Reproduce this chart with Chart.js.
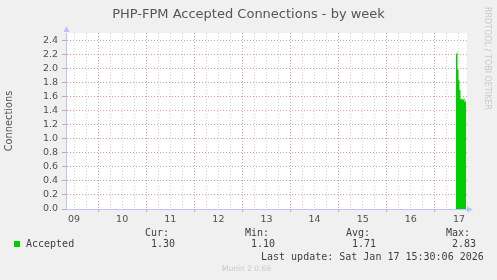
<!DOCTYPE html>
<html>
<head>
<meta charset="utf-8">
<script src="https://cdn.jsdelivr.net/npm/chart.js@4.4.1/dist/chart.umd.min.js"></script>
<style>
    html, body { margin: 0; padding: 0; background: #f0f0f0; }
    #wrap { position: relative; width: 497px; height: 280px; overflow: hidden; }
    #chart { position: absolute; left: 0; top: 0; }
    .mono {
        position: absolute;
        white-space: pre;
        font-family: "DejaVu Sans Mono", monospace;
        font-size: 10px;
        line-height: 12px;
        color: #404040;
    }
    .swatch { position: absolute; left: 14px; top: 241px; width: 6px; height: 6px; background: #00cc00; }
    .credit {
        position: absolute;
        font-family: "DejaVu Sans", sans-serif;
        font-size: 7.5px;
        color: #c8c8c8;
        white-space: pre;
    }
    .vert { writing-mode: vertical-rl; font-size: 8px; }
</style>
</head>
<body>
<div id="wrap">
    <canvas id="chart" width="497" height="280"></canvas>
</div>
<script>
/* ========================================
   Munin weekly graph: PHP-FPM accepted connections
   ======================================== */

// x axis runs in hours counted from Fri Jan 09 00:00
const dayLabels = ['09', '10', '11', '12', '13', '14', '15', '16', '17'];
const sampleHours = [202.5, 203, 203.5, 204, 204.5, 205, 205.5, 206, 206.5, 207, 207.5];
const accepted = [2.19, 2.22, 1.98, 1.83, 1.69, 1.56, 1.57, 1.55, 1.57, 1.52, 1.55];

const seriesName = 'Accepted';
const statLabels = ['Cur:', 'Min:', 'Avg:', 'Max:'];
const statValues = ['1.30', '1.10', '1.71', '2.83'];
const lastUpdate = 'Last update: Sat Jan 17 15:30:06 2026';

const GREEN = '#00cc00';
const MAJOR = '#eb9a9a';
const MINOR = '#d6d6d6';
const AXIS = '#c0c0ff';

const isMajorY = v => Math.round(v * 10) % 2 === 0;
const isMajorX = v => Math.round(v) % 24 === 0;

// white plot area + the little rrdtool arrows at the axis ends
const frame = {
    id: 'frame',
    beforeDraw(chart) {
        const { ctx, chartArea: a } = chart;
        ctx.save();
        ctx.fillStyle = '#ffffff';
        ctx.fillRect(a.left, a.top, a.right - a.left, a.bottom - a.top);
        ctx.restore();
    },
    afterDraw(chart) {
        const { ctx, chartArea: a } = chart;
        const x0 = Math.round(a.left) + 0.5;
        const y0 = Math.round(a.bottom) + 0.5;
        ctx.save();
        ctx.fillStyle = AXIS;
        ctx.beginPath();
        ctx.moveTo(x0 - 3, a.top - 1);
        ctx.lineTo(x0 + 3, a.top - 1);
        ctx.lineTo(x0, a.top - 7);
        ctx.closePath();
        ctx.fill();
        ctx.beginPath();
        ctx.moveTo(a.right, y0 - 3);
        ctx.lineTo(a.right, y0 + 3);
        ctx.lineTo(a.right + 6, y0);
        ctx.closePath();
        ctx.fill();
        ctx.restore();
    }
};

new Chart(document.getElementById('chart'), {
    type: 'line',
    data: {
        datasets: [{
            label: seriesName,
            data: sampleHours.map((h, i) => ({ x: h, y: accepted[i] })),
            borderColor: GREEN,
            backgroundColor: GREEN,
            borderWidth: 0,
            pointRadius: 0,
            stepped: 'middle',
            fill: 'origin'
        }]
    },
    options: {
        responsive: false,
        animation: false,
        layout: { padding: { left: 0, right: 0, top: 0, bottom: 51 } },
        plugins: {
            legend: { display: false },
            tooltip: { enabled: false },
            title: {
                display: true,
                text: 'PHP-FPM Accepted Connections - by week',
                color: '#555555',
                font: { family: 'DejaVu Sans', size: 13, weight: 'normal', lineHeight: 1.2 },
                padding: { top: 7, bottom: 10.4 }
            }
        },
        scales: {
            x: {
                type: 'linear',
                min: 8,
                max: 208,
                afterBuildTicks(scale) {
                    const ticks = [];
                    for (let h = 12; h <= 204; h += 6) ticks.push({ value: h });
                    scale.ticks = ticks;
                },
                afterFit(scale) {
                    scale.height = 20;
                    scale.paddingLeft = 0;
                    scale.paddingRight = 0;
                },
                ticks: {
                    autoSkip: false,
                    maxRotation: 0,
                    padding: 2,
                    color: '#505050',
                    font: { family: 'DejaVu Sans', size: 9.5 },
                    callback: v => (Math.round(v) % 24 === 12 ? dayLabels[(Math.round(v) - 12) / 24] : '')
                },
                grid: {
                    color: c => (c.tick && isMajorX(c.tick.value) ? MAJOR : MINOR),
                    tickColor: c => (c.tick && isMajorX(c.tick.value) ? MAJOR : 'rgba(0,0,0,0)'),
                    tickLength: 3,
                    lineWidth: 1
                },
                border: { color: AXIS, dash: [1, 2] }
            },
            y: {
                min: 0,
                max: 2.5,
                afterFit(scale) {
                    scale.width = 66;
                },
                ticks: {
                    stepSize: 0.1,
                    padding: 4,
                    color: '#505050',
                    font: { family: 'DejaVu Sans', size: 9.5 },
                    callback: v => (isMajorY(v) && v < 2.45 ? v.toFixed(1) : '')
                },
                grid: {
                    color: c => (c.tick && isMajorY(c.tick.value) ? MAJOR : MINOR),
                    tickColor: c => (c.tick && isMajorY(c.tick.value) ? MAJOR : 'rgba(0,0,0,0)'),
                    tickLength: 4,
                    lineWidth: 1
                },
                border: { color: AXIS, dash: [1, 2] },
                title: {
                    display: true,
                    text: 'Connections',
                    color: '#505050',
                    font: { family: 'DejaVu Sans', size: 9.8 },
                    padding: { top: 4, bottom: 0 }
                }
            },
            // empty right-hand margin (room for the rrdtool credit)
            yRight: {
                position: 'right',
                min: 0,
                max: 2.5,
                afterFit(scale) {
                    scale.width = 30;
                },
                ticks: { display: false },
                grid: { display: false, drawOnChartArea: false },
                border: { display: false }
            }
        }
    },
    plugins: [frame]
});

// legend block under the graph, as rrdtool lays it out
const wrap = document.getElementById('wrap');
function addText(cls, text, left, top) {
    const el = document.createElement('div');
    el.className = cls;
    el.textContent = text;
    el.style.left = left + 'px';
    el.style.top = top + 'px';
    wrap.appendChild(el);
    return el;
}

const statLeft = [145, 245, 346, 446];
statLabels.forEach((s, i) => addText('mono', s, statLeft[i], 227));
const sw = document.createElement('div');
sw.className = 'swatch';
wrap.appendChild(sw);
addText('mono', seriesName, 26, 238);
statValues.forEach((s, i) => addText('mono', s, statLeft[i] + 6, 238));
addText('mono', lastUpdate, 261, 251);
addText('credit', 'Munin 2.0.69', 222, 264);
addText('credit vert', 'RRDTOOL / TOBI OETIKER', 483, 7);
</script>
</body>
</html>
